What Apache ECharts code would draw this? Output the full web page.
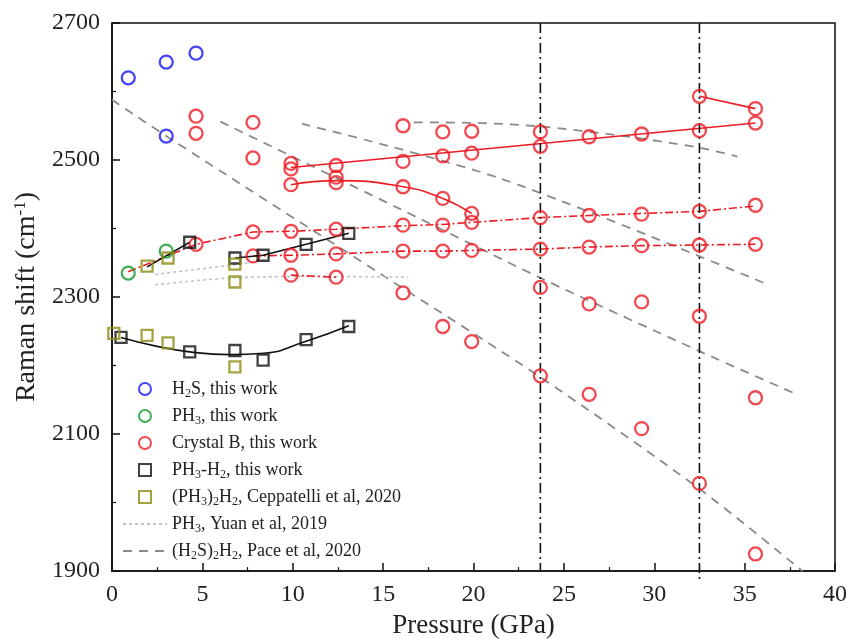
<!DOCTYPE html>
<html>
<head>
<meta charset="utf-8">
<script src="https://cdn.jsdelivr.net/npm/echarts@6/dist/echarts.min.js"></script>
</head>
<body style="margin:0; background:#fff;">
<div id="chart" style="width:852px;height:644px;"></div>
<script>
// measured points [pressure GPa, Raman shift cm-1]
const h2sPts = [[0.9, 2620], [3.0, 2643], [4.65, 2656], [3.0, 2535]];
const ph3Pts = [[0.9, 2335], [3.0, 2367]];
const crystalB = [
  [4.65, 2564], [4.65, 2539], [4.65, 2377],
  [7.8, 2555], [7.8, 2503], [7.8, 2395], [7.8, 2360],
  [9.9, 2495], [9.9, 2487], [9.9, 2464], [9.9, 2396], [9.9, 2361], [9.9, 2332],
  [12.4, 2492], [12.4, 2475], [12.4, 2467], [12.4, 2399], [12.4, 2363], [12.4, 2329],
  [16.1, 2550], [16.1, 2498], [16.1, 2461], [16.1, 2405], [16.1, 2367], [16.1, 2306],
  [18.3, 2541], [18.3, 2506], [18.3, 2444], [18.3, 2405], [18.3, 2367], [18.3, 2257],
  [19.9, 2542], [19.9, 2510], [19.9, 2422], [19.9, 2409], [19.9, 2368], [19.9, 2235],
  [23.7, 2541], [23.7, 2520], [23.7, 2416], [23.7, 2370], [23.7, 2314], [23.7, 2185],
  [26.4, 2534], [26.4, 2419], [26.4, 2373], [26.4, 2290], [26.4, 2158],
  [29.3, 2538], [29.3, 2421], [29.3, 2375], [29.3, 2293], [29.3, 2108],
  [32.5, 2593], [32.5, 2543], [32.5, 2425], [32.5, 2376], [32.5, 2272], [32.5, 2028],
  [35.6, 2575], [35.6, 2554], [35.6, 2434], [35.6, 2377], [35.6, 2153], [35.6, 1925]
];
const ph3h2Pts = [
  [4.3, 2380], [6.8, 2357], [8.36, 2361], [10.74, 2377], [13.1, 2393],
  [0.5, 2241], [4.3, 2220], [6.8, 2222], [8.36, 2208], [10.74, 2238], [13.1, 2257]
];
const ceppatelliPts = [
  [0.1, 2247], [1.94, 2244], [3.1, 2233], [6.8, 2198],
  [1.94, 2345], [3.1, 2357], [6.8, 2348], [6.8, 2322]
];

// guide lines
const redFitUpper = [[9.9, 2489], [35.6, 2554]];
const redFitCurve = [[9.9, 2464], [12.4, 2470], [16.1, 2461], [18.3, 2444], [19.9, 2422]];
const redFitShort = [[32.5, 2593], [35.6, 2575]];
const redDashDotA = [[0.9, 2337], [4.65, 2377], [7.8, 2395], [9.9, 2396], [12.4, 2399], [16.1, 2404],
  [18.3, 2406], [19.9, 2409], [23.7, 2416], [26.4, 2419], [29.3, 2422], [32.5, 2425], [35.6, 2433]];
const redDashDotB = [[7.8, 2360], [9.9, 2361], [12.4, 2363], [16.1, 2367], [18.3, 2367], [19.9, 2368],
  [23.7, 2370], [26.4, 2373], [29.3, 2375], [32.5, 2376], [35.6, 2377]];
const redDashDotC = [[9.9, 2332], [12.4, 2329]];
const blackFitA = [[1.94, 2344], [4.3, 2380]];
const blackFitB = [[6.8, 2357], [8.36, 2361], [10.74, 2377], [13.1, 2393]];
const blackFitCurve = [[0.5, 2241], [2.5, 2228], [4.3, 2220], [6.5, 2216], [8.4, 2218], [10.7, 2235], [13.1, 2258]];
const yuanUpper = [[2.4, 2333], [6.7, 2347], [8.4, 2353]];
const yuanLower = [[2.4, 2318], [6.7, 2328], [12, 2330], [16.4, 2329]];
const paceLines = [
  [[0, 2588], [3, 2535], [15.2, 2328], [23.7, 2183], [32.5, 2020], [38.2, 1900]],
  [[6.0, 2556], [15.9, 2429], [23.7, 2328], [32.5, 2221], [37.8, 2159]],
  [[10.5, 2553], [21.5, 2473], [36.3, 2318]],
  [[16.7, 2555], [20.4, 2554], [23.7, 2549], [28, 2536], [32.5, 2518], [34.6, 2505]]
];
const transitionP = [23.7, 32.5];
const yLabels = [1900, 2100, 2300, 2500, 2700];
const yMinor = [2000, 2200, 2400, 2600];

const legendNames = ['h2s', 'ph3', 'crystal', 'ph3h2', 'cepp', 'yuan', 'pace'];
const legendText = {
  h2s: 'H{s|2}S, this work',
  ph3: 'PH{s|3}, this work',
  crystal: 'Crystal B, this work',
  ph3h2: 'PH{s|3}-H{s|2}, this work',
  cepp: '(PH{s|3}){s|2}H{s|2}, Ceppatelli et al, 2020',
  yuan: 'PH{s|3}, Yuan et al, 2019',
  pace: '(H{s|2}S){s|2}H{s|2}, Pace et al, 2020'
};

const FONT = 'Liberation Serif';
const RED = '#ec1c24';
const SQUARE = 'path://M0 0H10V10H0Z';

function line(name, data, color, type, width, smooth) {
  return {
    type: 'line', name: name, data: data, symbol: 'none', smooth: smooth || false,
    lineStyle: { color: color, type: type, width: width }, itemStyle: { color: color },
    silent: true, z: 2
  };
}
function dots(name, data, symbol, size, color) {
  return {
    type: 'scatter', name: name, data: data, symbol: symbol, symbolSize: size, symbolKeepAspect: true,
    itemStyle: { color: 'rgba(0,0,0,0)', borderColor: color, borderWidth: 2.3 }, z: 4
  };
}

var series = [];
paceLines.forEach(function (l) { series.push(line('pace', l, '#8a8a8a', [9, 7], 1.8, 0.3)); });
series.push(line('yuan', yuanUpper, '#c4c4c4', [3, 3], 1.6, 0.3));
series.push(line('yuan', yuanLower, '#c4c4c4', [3, 3], 1.6, 0.3));
series.push(line('fit1', redFitUpper, RED, 'solid', 1.6));
series.push(line('fit2', redFitCurve, RED, 'solid', 1.6, 0.5));
series.push(line('fit3', redFitShort, RED, 'solid', 1.6));
series.push(line('fit4', redDashDotA, RED, [8, 3, 2, 3], 1.6));
series.push(line('fit5', redDashDotB, RED, [8, 3, 2, 3], 1.6));
series.push(line('fit6', redDashDotC, RED, [8, 3, 2, 3], 1.6));
series.push(line('fit7', blackFitA, '#111', 'solid', 1.6));
series.push(line('fit8', blackFitB, '#111', 'solid', 1.6));
series.push(line('fit9', blackFitCurve, '#111', 'solid', 1.6, 0.5));
transitionP.forEach(function (p, i) {
  var s = line('trans' + i, [[p, 2700], [p, i ? 1884 : 1900]], '#111', [10, 4, 2, 4], 1.6);
  s.clip = false;
  series.push(s);
});
series.push(dots('h2s', h2sPts, 'circle', 13, '#1616f0'));
series.push(dots('ph3', ph3Pts, 'circle', 13, '#159a2c'));
series.push(dots('crystal', crystalB, 'circle', 13, RED));
series.push(dots('ph3h2', ph3h2Pts, SQUARE, 11, '#111'));
series.push(dots('cepp', ceppatelliPts, SQUARE, 11, '#8c8c14'));

var chart = echarts.init(document.getElementById('chart'));
chart.setOption({
  animation: false,
  backgroundColor: '#fff',
  grid: { left: 112, right: 17, top: 23, bottom: 68, show: true, borderColor: '#111', borderWidth: 1.5 },
  legend: {
    data: legendNames.map(function (n) {
      return (n === 'yuan' || n === 'pace') ? { name: n, itemStyle: { opacity: 0 } } : { name: n };
    }),
    orient: 'vertical', left: 122, top: 378, padding: 0,
    itemWidth: 44, itemHeight: 12, itemGap: 5, selectedMode: false, symbolKeepAspect: true,
    formatter: function (n) { return legendText[n]; },
    textStyle: {
      fontFamily: FONT, fontSize: 18, color: '#222', lineHeight: 22,
      rich: { s: { fontFamily: FONT, fontSize: 12, color: '#222', verticalAlign: 'bottom', lineHeight: 22 } }
    }
  },
  xAxis: {
    type: 'value', min: 0, max: 40, interval: 5,
    name: 'Pressure (GPa)', nameLocation: 'middle', nameGap: 40,
    nameTextStyle: { fontFamily: FONT, fontSize: 27, color: '#222' },
    axisLine: { lineStyle: { color: '#111', width: 1.5 } },
    axisTick: { inside: true, length: 8, lineStyle: { color: '#111', width: 1.5 } },
    minorTick: { show: true, splitNumber: 2, length: 4, lineStyle: { color: '#111', width: 1.2 } },
    axisLabel: { fontFamily: FONT, fontSize: 24, color: '#222', margin: 12 },
    splitLine: { show: false }
  },
  yAxis: [{
    type: 'value', min: 1900, max: 2700, interval: 100,
    name: 'Raman shift (cm{p|-1})', nameLocation: 'middle', nameGap: 55, nameRotate: 90,
    nameTextStyle: {
      fontFamily: FONT, fontSize: 28, color: '#222',
      rich: { p: { fontFamily: FONT, fontSize: 17, color: '#222', verticalAlign: 'top', lineHeight: 30 } }
    },
    axisLine: { lineStyle: { color: '#111', width: 1.5 } },
    axisTick: { inside: true, length: 8, customValues: yLabels, lineStyle: { color: '#111', width: 1.5 } },
    axisLabel: {
      fontFamily: FONT, fontSize: 24, color: '#222', margin: 12, customValues: yLabels,
      formatter: function (v) { return String(v); }
    },
    splitLine: { show: false }
  }, {
    type: 'value', min: 1900, max: 2700, interval: 100, position: 'left',
    axisLine: { show: false },
    axisTick: { inside: true, length: 4, customValues: yMinor, lineStyle: { color: '#111', width: 1.2 } },
    axisLabel: { show: false },
    splitLine: { show: false }
  }],
  series: series
});
</script>
</body>
</html>
